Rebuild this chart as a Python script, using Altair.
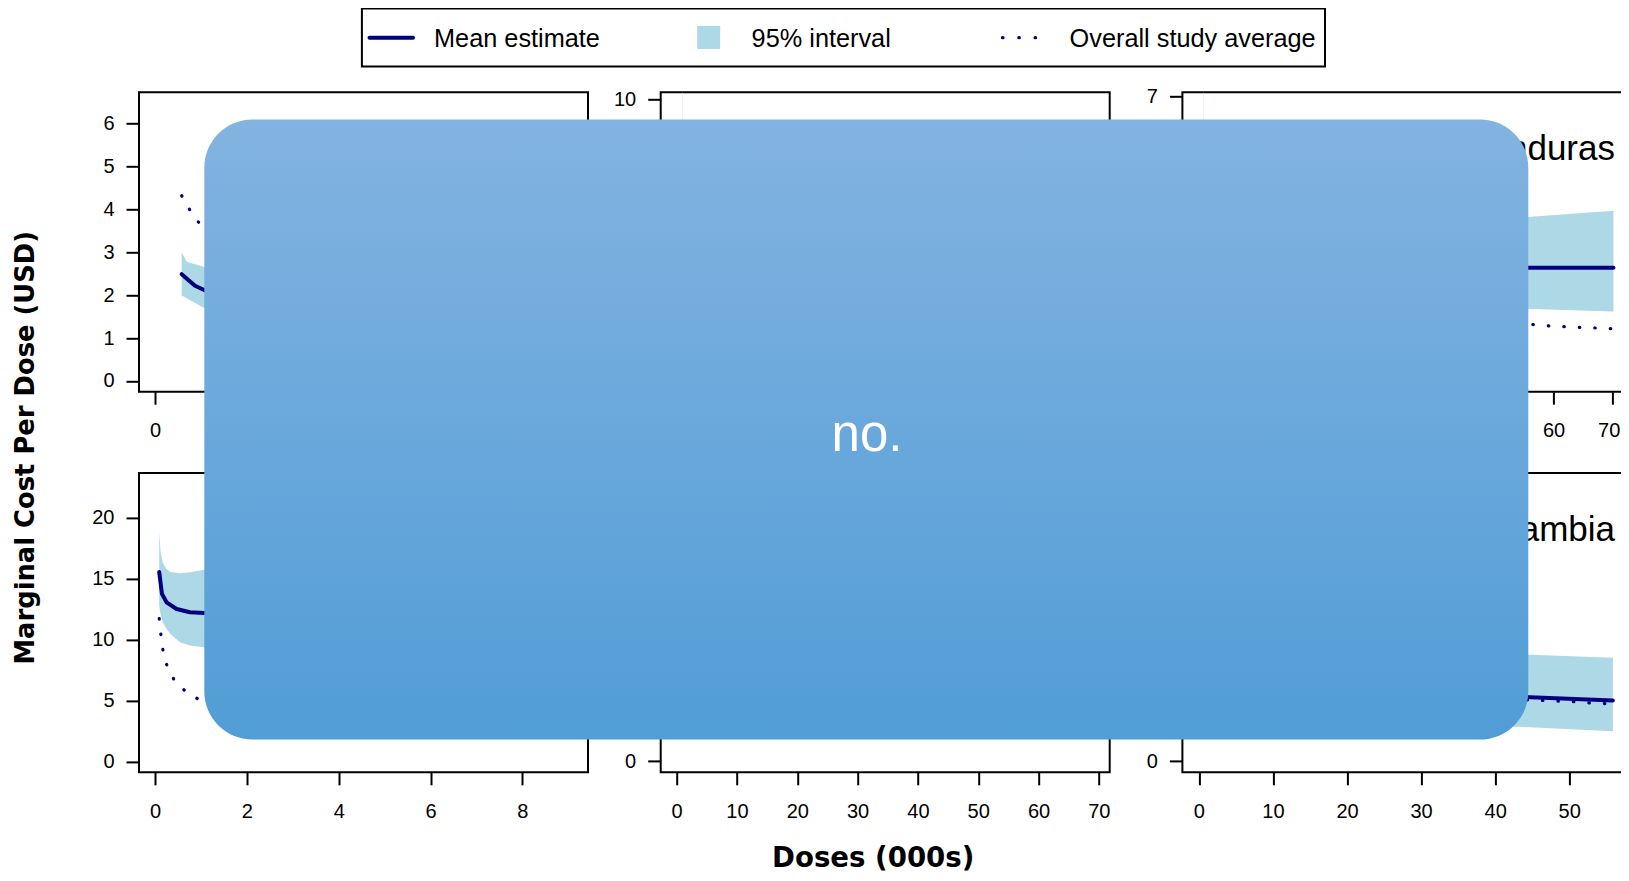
import altair as alt
import pandas as pd

FONT = "Liberation Sans"
TFONT = "DejaVu Sans"
NAVY = "#000080"
BAND = "#ADD8E6"
W, H = 449, 299.4

legend_labels = ["Mean estimate", "95% interval", "Overall study average"]
y_title = "Marginal Cost Per Dose (USD)"
x_title = "Doses (000s)"
overlay_label = "no."
panel_titles = ["", "", "Honduras", "", "", "Zambia"]

x_domains = [[-0.35, 9.43], [-2.65, 71.8], [-2.58, 73.13],
             [-0.35, 9.43], [-2.65, 71.8], [-2.23, 58.4]]
y_domains = [[-0.25, 6.73], [-0.38, 10.24], [-0.264, 7.11],
             [-0.88, 23.69], [-0.8, 20.8], [-0.8, 20.8]]
x_ticks = [[0, 2, 4, 6, 8], [0, 10, 20, 30, 40, 50, 60, 70], [0, 10, 20, 30, 40, 50, 60, 70],
           [0, 2, 4, 6, 8], [0, 10, 20, 30, 40, 50, 60, 70], [0, 10, 20, 30, 40, 50]]
y_ticks = [[0, 1, 2, 3, 4, 5, 6], [0, 2, 4, 6, 8, 10], [0, 1, 2, 3, 4, 5, 6, 7],
           [0, 5, 10, 15, 20], [0, 5, 10, 15, 20], [0, 5, 10, 15, 20]]

# panel 1 (top-left)
p1_mean_x = [0.58, 0.87, 1.07, 1.5]
p1_mean = [2.49, 2.22, 2.12, 2.02]
p1_band_x = [0.58, 0.69, 1.07, 1.5]
p1_band_lo = [1.99, 1.93, 1.70, 1.62]
p1_band_hi = [3.00, 2.78, 2.66, 2.56]
p1_avg_x = [0.58, 0.75, 0.94, 1.2, 1.5]
p1_avg = [4.32, 4.00, 3.71, 3.45, 3.2]

# panel 2 (top-middle)
p2_band_x = [1.0, 1.05, 1.5]
p2_band_lo = [5.0, 5.0, 5.0]
p2_band_hi = [40.0, 8.0, 7.0]

# panel 3 (Honduras)
p3_mean_x = [52.0, 70.1]
p3_mean = [2.79, 2.79]
p3_band_x = [0.9, 0.95, 52.0, 70.1]
p3_band_lo = [1.9, 1.9, 1.79, 1.71]
p3_band_hi = [40.0, 6.0, 4.0, 4.19]
p3_avg_x = [51.3, 53.9, 56.5, 59.2, 61.8, 64.4, 67.1, 69.6, 70.1]
p3_avg = [1.44, 1.41, 1.387, 1.355, 1.337, 1.322, 1.305, 1.288, 1.285]

# panel 4 (bottom-left)
p4_mean_x = [0.09, 0.15, 0.25, 0.47, 0.76, 1.07, 1.5]
p4_mean = [15.55, 13.76, 13.07, 12.52, 12.25, 12.2, 12.2]
p4_band_x = [0.09, 0.12, 0.17, 0.25, 0.33, 0.54, 0.76, 1.07, 1.5]
p4_band_lo = [12.8, 12.1, 11.4, 10.9, 10.48, 9.79, 9.52, 9.38, 9.3]
p4_band_hi = [18.9, 17.2, 16.3, 15.8, 15.55, 15.45, 15.53, 15.75, 16.0]
p4_avg_x = [0.09, 0.125, 0.17, 0.25, 0.40, 0.63, 0.91, 1.3]
p4_avg = [11.73, 10.47, 9.19, 7.98, 6.81, 5.88, 5.19, 4.6]

# panel 6 (Zambia)
p6_mean_x = [42.0, 55.9]
p6_mean = [4.67, 4.38]
p6_band_x = [42.0, 55.9]
p6_band_lo = [2.51, 2.16]
p6_band_hi = [7.74, 7.46]
p6_avg_x = [42.2, 44.3, 46.4, 48.5, 50.6, 52.7, 54.8, 55.9]
p6_avg = [4.46, 4.42, 4.38, 4.33, 4.29, 4.21, 4.16, 4.14]

ONE = pd.DataFrame({"k": [0]})


def txt(s):
    return pd.DataFrame({"t": [s]})


def frame():
    return alt.Chart(ONE).mark_rect(fillOpacity=0, stroke="black", strokeWidth=2).encode(
        x=alt.value(0), x2=alt.value(W), y=alt.value(0), y2=alt.value(H))


def panel(i, mean_x=(), mean_y=(), band_x=(), band_lo=(), band_hi=(), avg_x=(), avg_y=(),
          extra=(), xaxis_extra=None):
    xs = alt.Scale(domain=x_domains[i], nice=False, zero=False)
    ys = alt.Scale(domain=y_domains[i], nice=False, zero=False)
    xa = alt.Axis(values=x_ticks[i], title=None, **(xaxis_extra or {}))
    ya = alt.Axis(values=y_ticks[i], title=None)

    def X(f):
        return alt.X(f, type="quantitative", scale=xs, axis=xa)

    def Y(f):
        return alt.Y(f, type="quantitative", scale=ys, axis=ya)

    layers = [frame()]
    if len(band_x):
        df = pd.DataFrame({"x": list(band_x), "lo": list(band_lo), "hi": list(band_hi)})
        layers.append(alt.Chart(df).mark_area(color=BAND, opacity=1, clip=True).encode(
            x=X("x"), y=Y("lo"), y2="hi"))
    if len(mean_x):
        df = pd.DataFrame({"x": list(mean_x), "y": list(mean_y)})
        layers.append(alt.Chart(df).mark_line(color=NAVY, strokeWidth=4, strokeCap="round",
                                              strokeJoin="round", clip=True).encode(x=X("x"), y=Y("y")))
    if len(avg_x):
        df = pd.DataFrame({"x": list(avg_x), "y": list(avg_y)})
        layers.append(alt.Chart(df).mark_line(color=NAVY, strokeWidth=3.2, strokeCap="round",
                                              strokeDash=[0.5, 15], clip=True).encode(x=X("x"), y=Y("y")))
    if not (len(band_x) or len(mean_x) or len(avg_x)):
        df = pd.DataFrame({"x": [x_ticks[i][0]], "y": [y_ticks[i][0]]})
        layers.append(alt.Chart(df).mark_point(opacity=0).encode(x=X("x"), y=Y("y")))
    if panel_titles[i]:
        layers.append(alt.Chart(txt(panel_titles[i])).mark_text(
            align="right", baseline="alphabetic", fontSize=35, font=FONT, color="black").encode(
            text="t:N", x=alt.value(432.6), y=alt.value(67.7)))
    layers.extend(extra)
    return alt.layer(*layers).properties(width=W, height=H)


def legend_text(s, xpos):
    return alt.Chart(txt(s)).mark_text(align="left", baseline="alphabetic", fontSize=25.3,
                                       font=FONT, color="black").encode(
        text="t:N", x=alt.value(xpos), y=alt.value(-45.6))


# legend and y title live in panel 1 (pixel offsets from that panel's corner)
legend_layers = [
    alt.Chart(ONE).mark_rect(fillOpacity=0, stroke="black", strokeWidth=2).encode(
        x=alt.value(222.9), x2=alt.value(1186), y=alt.value(-83.7), y2=alt.value(-25.7)),
    alt.Chart(ONE).mark_rule(color=NAVY, strokeWidth=4, strokeCap="round").encode(
        x=alt.value(230.5), x2=alt.value(274), y=alt.value(-54.6)),
    alt.Chart(ONE).mark_rect(color=BAND, opacity=1).encode(
        x=alt.value(558.2), x2=alt.value(581.2), y=alt.value(-66.3), y2=alt.value(-43.3)),
    alt.Chart(ONE).mark_rule(color=NAVY, strokeWidth=3.2, strokeCap="round", strokeDash=[0.5, 15.8]).encode(
        x=alt.value(863.5), x2=alt.value(897), y=alt.value(-54.6)),
    legend_text(legend_labels[0], 295),
    legend_text(legend_labels[1], 612.6),
    legend_text(legend_labels[2], 930.6),
    alt.Chart(txt(y_title)).mark_text(align="center", baseline="middle", angle=270, fontSize=25.8,
                                      fontWeight="bold", font=TFONT, color="black").encode(
        text="t:N", x=alt.value(-113), y=alt.value(355.5)),
]

xtitle_layers = [
    alt.Chart(txt(x_title)).mark_text(align="center", baseline="alphabetic", fontSize=27.6,
                                      fontWeight="bold", font=TFONT, color="black").encode(
        text="t:N", x=alt.value(212.5), y=alt.value(394.5)),
]

grad = alt.LinearGradient(gradient="linear",
                          stops=[alt.GradientStop(offset=0, color="#83B3E1"),
                                 alt.GradientStop(offset=1, color="#519DD6")],
                          x1=0, x2=0, y1=0, y2=1)
overlay_layers = [
    alt.Chart(ONE).mark_rect(color=grad, opacity=1, cornerRadius=48).encode(
        x=alt.value(-978.1), x2=alt.value(345.9), y=alt.value(-353.3), y2=alt.value(266.7)),
    alt.Chart(txt(overlay_label)).mark_text(align="center", baseline="alphabetic", fontSize=51,
                                            font=FONT, color="white").encode(
        text="t:N", x=alt.value(-315.4), y=alt.value(-22.3)),
]

p1 = panel(0, p1_mean_x, p1_mean, p1_band_x, p1_band_lo, p1_band_hi, p1_avg_x, p1_avg, extra=legend_layers)
p2 = panel(1, band_x=p2_band_x, band_lo=p2_band_lo, band_hi=p2_band_hi)
p3 = panel(2, p3_mean_x, p3_mean, p3_band_x, p3_band_lo, p3_band_hi, p3_avg_x, p3_avg,
           xaxis_extra={"labelFlush": 19, "labelFlushOffset": 7})
p4 = panel(3, p4_mean_x, p4_mean, p4_band_x, p4_band_lo, p4_band_hi, p4_avg_x, p4_avg)
p5 = panel(4, extra=xtitle_layers)
p6 = panel(5, p6_mean_x, p6_mean, p6_band_x, p6_band_lo, p6_band_hi, p6_avg_x, p6_avg, extra=overlay_layers)

chart = alt.concat(p1, p2, p3, p4, p5, p6, columns=3,
                   spacing={"row": 80.6, "column": 72.7}, bounds="flush").properties(
    autosize=alt.AutoSizeParams(type="none"),
    padding={"left": 131, "top": 84.3, "right": 1482, "bottom": 780.7},
).configure_view(strokeWidth=0).configure_axis(
    domain=False, grid=False, tickColor="black", tickWidth=2,
    labelFont=FONT, labelFontSize=20, labelColor="black",
    labelFlush=False, labelOverlap=False, labelBound=False
).configure_axisX(tickSize=12.5, labelPadding=16.5).configure_axisY(tickSize=13, labelPadding=12)

chart.save("out.html", embed_options={"renderer": "svg", "actions": False})
